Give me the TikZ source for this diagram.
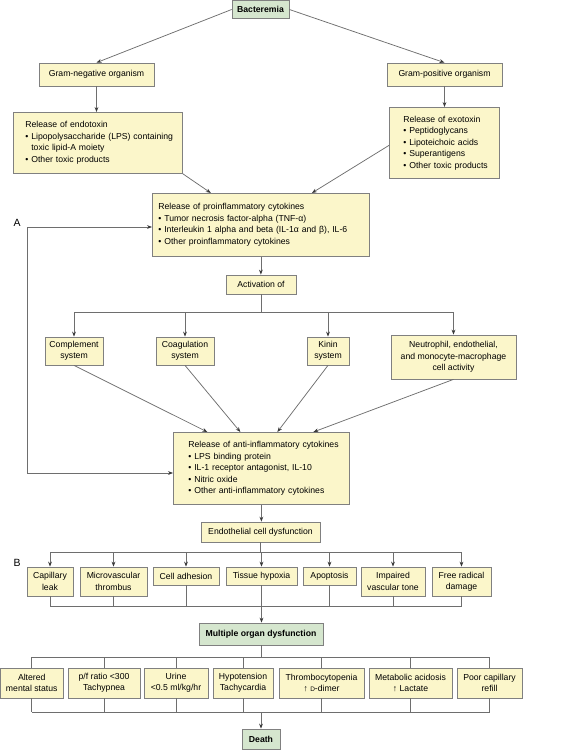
\documentclass[tikz,border=0pt]{standalone}
\usepackage{fontspec}
\setmainfont{Liberation Sans}
\usetikzlibrary{arrows.meta,calc}
\definecolor{yfill}{HTML}{FBF6CA}
\definecolor{gfill}{HTML}{D5E6CE}
\definecolor{bordc}{HTML}{808080}
\definecolor{linec}{HTML}{6E6E6E}
\definecolor{tipc}{HTML}{3A3A3A}
\newcommand{\bl}{\textbullet\ }
\newcommand{\hg}{\phantom{\textbullet\ }}
\begin{document}
\begin{tikzpicture}[x=1bp,y=-1bp,
  >={Stealth[length=5pt,width=3.8pt,color=tipc]},
  box/.style={draw=bordc, line width=0.75pt, fill=yfill, inner sep=0pt,
    font=\fontsize{8.7}{11.5}\selectfont, align=center},
  gbox/.style={box, fill=gfill, font=\fontsize{8.7}{11.5}\selectfont\bfseries},
  lbox/.style={box, align=left, anchor=north west},
  conn/.style={draw=linec, line width=0.75pt},
  arr/.style={conn, ->},
  lab/.style={font=\fontsize{10.5}{12}\selectfont, inner sep=0pt}
]
\useasboundingbox (0,0) rectangle (582,750);

% top
\node[gbox, minimum width=57bp, minimum height=18bp] (bact) at (260.5,9.5) {Bacteremia};
\node[box, minimum width=115bp, minimum height=23bp] (gneg) at (96.5,74.5) {Gram-negative organism};
\node[box, minimum width=115bp, minimum height=23bp] (gpos) at (444.5,74.5) {Gram-positive organism};
\node[lbox, text width=145bp, inner xsep=12bp, minimum height=61bp] (endo) at (13,112)
 {\mbox{Release of endotoxin}\\\mbox{\bl Lipopolysaccharide (LPS) containing}\\\mbox{\hg toxic lipid-A moiety}\\\mbox{\bl Other toxic products}};
\node[lbox, text width=82bp, inner xsep=14bp, minimum height=71bp] (exo) at (389,107)
 {\mbox{Release of exotoxin}\\\mbox{\bl Peptidoglycans}\\\mbox{\bl Lipoteichoic acids}\\\mbox{\bl Superantigens}\\\mbox{\bl Other toxic products}};
\node[lbox, text width=205bp, inner xsep=6bp, minimum height=63bp] (pro) at (152,193)
 {\mbox{Release of proinflammatory cytokines}\\\mbox{\bl Tumor necrosis factor-alpha (TNF-α)}\\\mbox{\bl Interleukin 1 alpha and beta (IL-1α and β), IL-6}\\\mbox{\bl Other proinflammatory cytokines}};
\node[box, minimum width=70bp, minimum height=19bp] (act) at (261,284.5) {Activation of};

\node[box, minimum width=58bp, minimum height=28bp] (comp) at (74,351) {Complement\\system};
\node[box, minimum width=58bp, minimum height=28bp] (coag) at (185,351) {Coagulation\\system};
\node[box, minimum width=42bp, minimum height=28bp] (kin) at (328,351) {Kinin\\system};
\node[box, minimum width=125bp, minimum height=44bp] (neut) at (453.5,357) {Neutrophil, endothelial,\\and monocyte-macrophage\\cell activity};

\node[lbox, text width=146bp, inner xsep=15bp, minimum height=72bp] (anti) at (173,432)
 {\mbox{Release of anti-inflammatory cytokines}\\\mbox{\bl LPS binding protein}\\\mbox{\bl IL-1 receptor antagonist, IL-10}\\\mbox{\bl Nitric oxide}\\\mbox{\bl Other anti-inflammatory cytokines}};

\node[box, minimum width=119bp, minimum height=20bp] (endd) at (260.5,532) {Endothelial cell dysfunction};

% row B
\node[box, minimum width=46bp, minimum height=29bp] (cap) at (50,581.5) {Capillary\\leak};
\node[box, minimum width=67bp, minimum height=29bp] (mic) at (113.5,581.5) {Microvascular\\thrombus};
\node[box, minimum width=66bp, minimum height=18bp] (cel) at (186,576) {Cell adhesion};
\node[box, minimum width=71bp, minimum height=18bp] (tis) at (261.5,576) {Tissue hypoxia};
\node[box, minimum width=53bp, minimum height=18bp] (apo) at (329.5,576) {Apoptosis};
\node[box, minimum width=64bp, minimum height=29bp] (imp) at (393,581.5) {Impaired\\vascular tone};
\node[box, minimum width=59bp, minimum height=29bp] (fre) at (461.5,581.5) {Free radical\\damage};

\node[gbox, minimum width=124bp, minimum height=22bp] (mod) at (261,634) {Multiple organ dysfunction};

% bottom row
\node[box, minimum width=62.5bp, minimum height=30bp] (alt) at (31.75,683) {Altered\\mental status};
\node[box, minimum width=72bp, minimum height=30bp] (pf) at (104,683) {p/f ratio <300\\Tachypnea};
\node[box, minimum width=64bp, minimum height=30bp] (uri) at (176,683) {Urine\\<0.5 ml/kg/hr};
\node[box, minimum width=60bp, minimum height=30bp] (hyp) at (243,683) {Hypotension\\Tachycardia};
\node[box, minimum width=85bp, minimum height=30bp] (thr) at (321.5,683) {Thrombocytopenia\\↑ {\fontsize{6.5}{8}\selectfont D}-dimer};
\node[box, minimum width=83bp, minimum height=30bp] (met) at (410.5,683) {Metabolic acidosis\\↑ Lactate};
\node[box, minimum width=65bp, minimum height=30bp] (poo) at (489.5,683) {Poor capillary\\refill};

\node[gbox, minimum width=38bp, minimum height=20bp] (death) at (261,739) {Death};

\node[lab] (labA) at (17,223) {A};
\node[lab] (labB) at (17,563) {B};

% connectors top
\draw[arr] (bact.west) -- (gneg.north);
\draw[arr] (bact.east) -- (gpos.north);
\draw[arr] (gneg.south) -- (gneg.south |- endo.north);
\draw[arr] (gpos.south) -- (gpos.south |- exo.north);
\draw[arr] (endo.south east) -- ($(pro.north)+(-50,0)$);
\draw[arr] ($(exo.west)+(0,2.5)$) -- ($(pro.north)+(51,0)$);
\draw[arr] (pro.south) -- (pro.south |- act.north);

% feedback
\coordinate (fa) at (27,227);
\coordinate (fb) at (27,473);
\draw[conn,<->] (pro.west |- fa) -- (fa) -- (fb) -- (anti.west |- fb);

% activation branch
\coordinate (j1) at (261,312);
\draw[conn] (act.south) -- (act.south |- j1);
\draw[conn] (comp.north |- j1) -- (neut.north |- j1);
\foreach \n in {comp,coag,kin,neut} \draw[arr] (\n.north |- j1) -- (\n.north);

\draw[arr] (comp.south) -- ($(anti.north)+(-54,0)$);
\draw[arr] (coag.south) -- ($(anti.north)+(-21,0)$);
\draw[arr] (kin.south) -- ($(anti.north)+(16,0)$);
\draw[arr] (neut.south) -- ($(anti.north)+(52,0)$);

\draw[arr] (anti.south) -- (anti.south |- endd.north);

% B branch
\coordinate (j2) at (261,552);
\draw[conn] (endd.south) -- (endd.south |- j2);
\draw[conn] (cap.north |- j2) -- (fre.north |- j2);
\foreach \n in {cap,mic,cel,tis,apo,imp,fre} \draw[arr] (\n.north |- j2) -- (\n.north);
\coordinate (j3) at (261,606);
\draw[conn] (cap.south |- j3) -- (fre.south |- j3);
\foreach \n in {cap,mic,cel,apo,imp,fre} \draw[conn] (\n.south) -- (\n.south |- j3);
\draw[arr] (tis.south) -- (tis.south |- mod.north);

% bottom branch
\coordinate (j4) at (261,657);
\draw[conn] (mod.south) -- (mod.south |- j4);
\draw[conn] (alt.north |- j4) -- (poo.north |- j4);
\foreach \n in {alt,pf,uri,hyp,thr,met,poo} \draw[conn] (\n.north |- j4) -- (\n.north);
\coordinate (j5) at (261,712);
\draw[conn] (alt.south |- j5) -- (poo.south |- j5);
\foreach \n in {alt,pf,uri,hyp,thr,met,poo} \draw[conn] (\n.south) -- (\n.south |- j5);
\draw[arr] (j5) -- (j5 |- death.north);
\end{tikzpicture}
\end{document}
